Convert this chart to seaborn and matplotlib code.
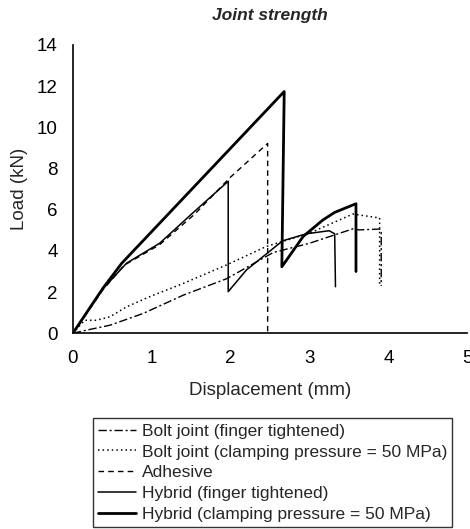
import numpy as np
import pandas as pd
import matplotlib
matplotlib.use("Agg")
import matplotlib.pyplot as plt
import seaborn as sns

# curves (displacement mm, load kN)
bolt_finger_x = [0.0, 0.17, 0.47, 0.89, 1.40, 1.95, 2.54, 3.00, 3.55, 3.63, 3.89, 3.91, 3.91]
bolt_finger_y = [0.0, 0.15, 0.39, 0.96, 1.85, 2.65, 3.92, 4.37, 5.07, 5.02, 5.06, 4.90, 2.30]

bolt_clamp_x = [0.0, 0.15, 0.30, 0.47, 0.68, 0.97, 1.40, 1.95, 2.45, 3.00, 3.55, 3.89, 3.89]
bolt_clamp_y = [0.0, 0.63, 0.63, 0.80, 1.28, 1.77, 2.42, 3.32, 4.21, 4.86, 5.79, 5.60, 2.30]

adhesive_x = [0.0, 0.38, 0.65, 1.10, 1.55, 1.99, 2.20, 2.47, 2.47]
adhesive_y = [0.0, 2.10, 3.30, 4.30, 5.80, 7.55, 8.28, 9.22, 0.0]

hybrid_finger_x = [0.0, 0.38, 0.68, 1.10, 1.52, 1.97, 1.97, 2.20, 2.66, 2.96, 3.25, 3.32, 3.33]
hybrid_finger_y = [0.0, 2.15, 3.40, 4.37, 5.84, 7.38, 2.02, 3.07, 4.49, 4.83, 4.98, 4.83, 2.26]

hybrid_clamp_x = [0.0, 0.38, 0.62, 2.68, 2.65, 2.92, 3.17, 3.32, 3.59, 3.59]
hybrid_clamp_y = [0.0, 2.18, 3.40, 11.74, 3.23, 4.70, 5.50, 5.87, 6.29, 3.00]

labels = ["Bolt joint (finger tightened)",
          "Bolt joint (clamping pressure = 50 MPa)",
          "Adhesive",
          "Hybrid (finger tightened)",
          "Hybrid (clamping pressure = 50 MPa)"]

sns.set_style("white")
plt.rcParams['font.family'] = ['Liberation Sans', 'DejaVu Sans']

fig = plt.figure(figsize=(4.7, 5.29), dpi=100)
ax = fig.add_axes([0.155, 0.370, 0.839, 0.545])

series = [
    (bolt_finger_x, bolt_finger_y, (0, (6, 2, 1.5, 2)), 1.0),
    (bolt_clamp_x, bolt_clamp_y, (0, (1, 2)), 1.1),
    (adhesive_x, adhesive_y, (0, (4, 3)), 1.0),
    (hybrid_finger_x, hybrid_finger_y, "-", 1.1),
    (hybrid_clamp_x, hybrid_clamp_y, "-", 2.0),
]
for (xs, ys, ls, lw), lab in zip(series, labels):
    df = pd.DataFrame({"x": xs, "y": ys})
    sns.lineplot(data=df, x="x", y="y", sort=False, estimator=None, ax=ax,
                 color="black", linestyle=ls, linewidth=lw, label=lab)

ax.set_xlim(0, 5)
ax.set_ylim(0, 14)
ax.set_xticks(np.arange(0, 6, 1))
ax.set_yticks(np.arange(0, 16, 2))
ax.tick_params(direction="in", length=4, width=1, colors="black", labelsize=13.5, pad=12)
ax.tick_params(axis="y", pad=11)
for s in ["top", "right"]:
    ax.spines[s].set_visible(False)
for s in ["left", "bottom"]:
    ax.spines[s].set_color("black")
    ax.spines[s].set_linewidth(1.2)

ax.set_xlabel("Displacement (mm)", fontsize=13.5, labelpad=11)
ax.set_ylabel("Load (kN)", fontsize=13.5, labelpad=6)
ax.set_title("Joint strength", fontsize=12.5, fontweight="bold", fontstyle="italic", pad=18)

ax.get_legend().remove()
handles, labs = ax.get_legend_handles_labels()
leg = fig.legend(handles, labs, loc="lower left", bbox_to_anchor=(93 / 470, 0.003),
                 frameon=True, fancybox=False, edgecolor="black", fontsize=12.5,
                 handlelength=2.2, handletextpad=0.3, labelspacing=0.33,
                 borderpad=0.3, borderaxespad=0)
leg.get_frame().set_linewidth(1.0)

fig.savefig("out.png", dpi=100)
